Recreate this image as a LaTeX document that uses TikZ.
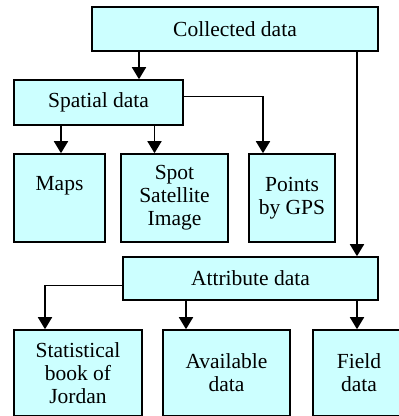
\documentclass[tikz,border=0pt]{standalone}
\usepackage{fontspec}
\setmainfont{Liberation Serif}
\usetikzlibrary{arrows.meta}
\definecolor{boxcyan}{HTML}{CCFFFF}
\begin{document}
\begin{tikzpicture}[x=1pt,y=1pt,
    box/.style={draw,fill=boxcyan,line width=1.6pt,align=center,inner sep=0pt,
        font=\rmfamily\fontsize{21.5}{23}\selectfont},
    arr/.style={line width=1.8pt,-{Triangle[width=14pt,length=12pt]}}]
                \useasboundingbox (0,0) rectangle (399,-416);
                \node[box,minimum width=286,minimum height=44] at (235,-29) (collected) {Collected data};
                \node[box,minimum width=169,minimum height=45] at (98.5,-102.5) (spatial) {Spatial data};
                \node[box,minimum width=91,minimum height=88] at (59.5,-198) (maps) {Maps\\[6pt]};
                \node[box,minimum width=107,minimum height=88] at (174.5,-198) (spot) {Spot\\Satellite\\Image};
                \node[box,minimum width=86,minimum height=88] at (292,-198) (points) {Points\\by GPS};
                \node[box,minimum width=255,minimum height=43] at (250.5,-278.5) (attr) {Attribute data};
                \node[box,minimum width=128,minimum height=86] at (78,-373) (stat) {Statistical\\book of\\Jordan};
                \node[box,minimum width=127,minimum height=86] at (226.5,-373) (avail) {Available\\data};
                \node[box,minimum width=92,minimum height=86] at (359,-373) (field) {Field\\data};

                \draw[arr] ([xshift=-96pt]collected.south) -- ([xshift=-96pt]collected.south |- spatial.north);
                \draw[arr] ([xshift=122pt]collected.south) -- ([xshift=122pt]collected.south |- attr.north);
                \draw[arr] ([xshift=1.5pt]maps.north |- spatial.south) -- ([xshift=1.5pt]maps.north);
                \draw[arr] ([xshift=-20pt]spot.north |- spatial.south) -- ([xshift=-20pt]spot.north);
                \draw[arr] ([yshift=6pt]spatial.east) -| ([xshift=-29pt]points.north);
                \draw[arr] ([yshift=-7pt]attr.west) -| ([xshift=-33pt]stat.north);
                \draw[arr] ([xshift=-40.5pt]avail.north |- attr.south) -- ([xshift=-40.5pt]avail.north);
                \draw[arr] ([xshift=-2pt]field.north |- attr.south) -- ([xshift=-2pt]field.north);
\end{tikzpicture}
\end{document}
